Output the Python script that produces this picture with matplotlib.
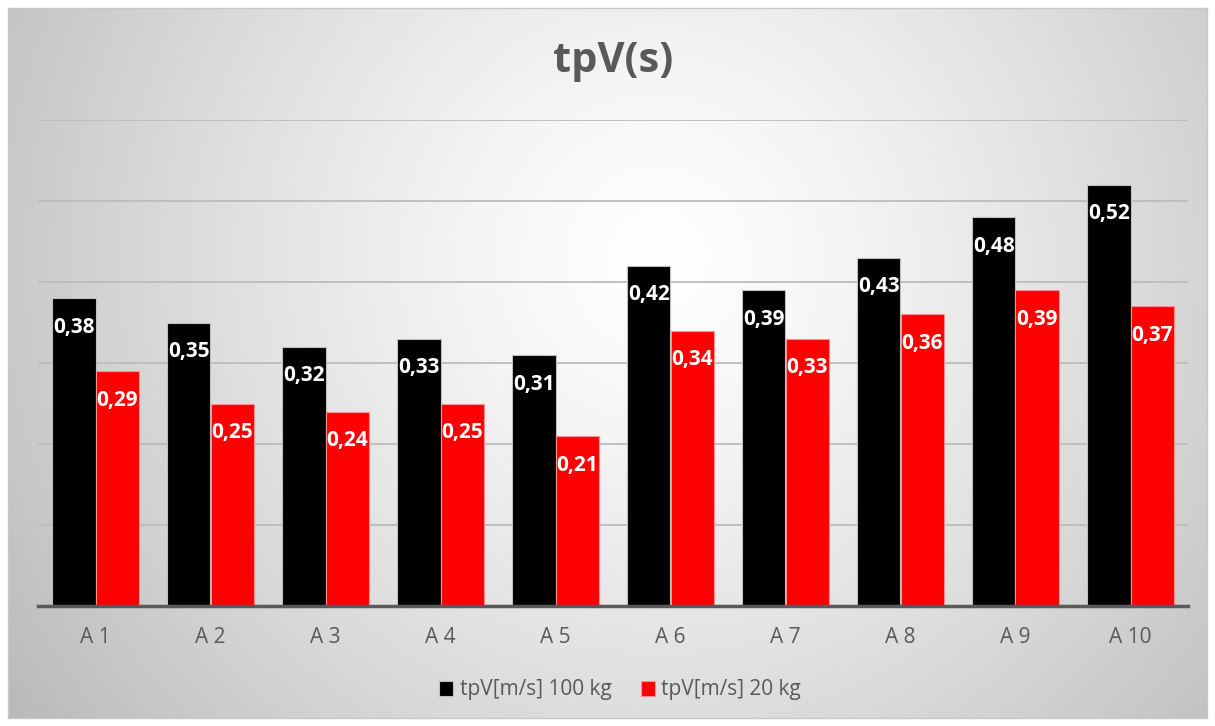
import numpy as np
import matplotlib
matplotlib.use('Agg')
import matplotlib.pyplot as plt

# Dados
categorias = ['A 1', 'A 2', 'A 3', 'A 4', 'A 5', 'A 6', 'A 7', 'A 8', 'A 9', 'A 10']
tpv_100kg = [0.38, 0.35, 0.32, 0.33, 0.31, 0.42, 0.39, 0.43, 0.48, 0.52]
tpv_20kg = [0.29, 0.25, 0.24, 0.25, 0.21, 0.34, 0.33, 0.36, 0.39, 0.37]
serie_nomes = ['tpV[m/s] 100 kg', 'tpV[m/s] 20 kg']
titulo = 'tpV(s)'

plt.rcParams['font.family'] = ['Open Sans', 'DejaVu Sans']

W, H = 1215, 726
fig = plt.figure(figsize=(W / 100, H / 100), dpi=100)
fig.patch.set_facecolor('white')

# Fundo com gradiente radial (cinza nas bordas, branco no centro)
bg = fig.add_axes([8 / W, 8 / H, 1 - 16 / W, 1 - 16 / H])
yy, xx = np.mgrid[0:H - 16, 0:W - 16]
d = np.hypot(xx - 650, yy - 250) / 720
g = np.clip(1.0 - 0.24 * d ** 1.3, 0, 1)
bg.imshow(np.dstack([g, g, g]), aspect='auto', extent=(0, 1, 0, 1), zorder=0)
bg.set_xlim(0, 1)
bg.set_ylim(0, 1)
bg.set_xticks([])
bg.set_yticks([])
for s in bg.spines.values():
    s.set_color('#c8c8c8')
    s.set_linewidth(1.0)

# Eixo principal
ax = fig.add_axes([38 / W, 120 / H, 1150 / W, 486 / H])
ax.patch.set_alpha(0)

x = np.arange(len(categorias))
larg = 0.374
ax.bar(x - larg / 2, tpv_100kg, larg, color='black', edgecolor='#bfbfbf', linewidth=0.8,
       label=serie_nomes[0], zorder=3)
ax.bar(x + larg / 2, tpv_20kg, larg, color='#ff0000', edgecolor='#ff9090', linewidth=0.8,
       label=serie_nomes[1], zorder=3)

# Rotulos de dados dentro das barras
for xi, v in zip(x - larg / 2, tpv_100kg):
    ax.annotate(f'{v:.2f}'.replace('.', ','), (xi, v), xytext=(0, -21), textcoords='offset points',
                ha='center', va='center', color='white', fontsize=15, fontweight='bold', zorder=4)
for xi, v in zip(x + larg / 2, tpv_20kg):
    ax.annotate(f'{v:.2f}'.replace('.', ','), (xi, v), xytext=(0, -21), textcoords='offset points',
                ha='center', va='center', color='white', fontsize=15, fontweight='bold', zorder=4)

ax.set_xlim(-0.5, len(categorias) - 0.5)
ax.set_ylim(0, 0.6)
ax.set_yticks(np.arange(0.1, 0.61, 0.1))
ax.set_yticklabels([])
ax.grid(axis='y', color='#bcbcbc', linewidth=1.3, zorder=1)
ax.tick_params(axis='y', length=0)
ax.set_xticks(x)
ax.set_xticklabels(categorias, fontsize=15, color='#595959')
ax.tick_params(axis='x', length=0, pad=15)

for s in ['top', 'right', 'left']:
    ax.spines[s].set_visible(False)
ax.spines['bottom'].set_color('#595959')
ax.spines['bottom'].set_linewidth(2.5)
ax.spines['bottom'].set_zorder(5)

fig.text(613 / W, 1 - 62 / H, titulo, ha='center', va='center', fontsize=30,
         fontweight='bold', color='#595959')

leg = fig.legend(loc='center', bbox_to_anchor=(620 / W, 1 - 690 / H), ncol=2, frameon=False,
                 fontsize=15, handlelength=0.7, handleheight=0.7, handletextpad=0.3,
                 columnspacing=1.4, labelcolor='#595959')

fig.savefig('out.png', dpi=100)
